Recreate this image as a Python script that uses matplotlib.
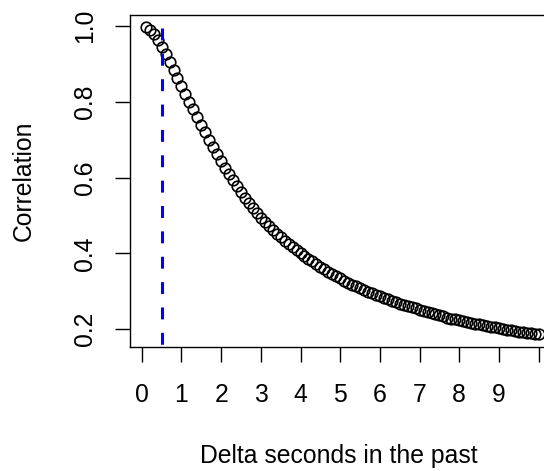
import matplotlib
matplotlib.use('Agg')
import matplotlib.pyplot as plt
import numpy as np

plt.rcParams['font.family'] = ['Liberation Sans', 'DejaVu Sans']
fontsize = 17.8

# lag in seconds (0.1 .. 10.0) and the correlation
lag = [round(0.1 * k, 1) for k in range(1, 101)]
correlation = [
    0.997, 0.990, 0.978, 0.962, 0.945, 0.926, 0.906, 0.885, 0.864, 0.842,
    0.821, 0.800, 0.780, 0.760, 0.740, 0.720, 0.700, 0.681, 0.662, 0.643,
    0.626, 0.609, 0.593, 0.577, 0.562, 0.547, 0.533, 0.519, 0.506, 0.494,
    0.483, 0.472, 0.462, 0.452, 0.443, 0.434, 0.425, 0.417, 0.409, 0.401,
    0.393, 0.386, 0.379, 0.372, 0.365, 0.358, 0.352, 0.346, 0.340, 0.334,
    0.328, 0.323, 0.318, 0.313, 0.308, 0.303, 0.299, 0.295, 0.291, 0.287,
    0.283, 0.279, 0.275, 0.271, 0.267, 0.264, 0.261, 0.258, 0.255, 0.252,
    0.249, 0.246, 0.243, 0.240, 0.237, 0.234, 0.231, 0.228, 0.226, 0.224,
    0.221, 0.219, 0.217, 0.215, 0.213, 0.211, 0.209, 0.207, 0.205, 0.203,
    0.201, 0.199, 0.197, 0.195, 0.193, 0.192, 0.191, 0.190, 0.188, 0.187,
]
cutoff = 0.5
cutoff_top = 0.995

x_ticks = list(range(0, 11))
x_tick_labels = [str(t) for t in range(0, 10)] + ['']
y_ticks = [0.2, 0.4, 0.6, 0.8, 1.0]
y_tick_labels = ['0.2', '0.4', '0.6', '0.8', '1.0']

W, H = 544, 471
fig = plt.figure(figsize=(W / 100, H / 100), dpi=100)
# R-style plot region; the right edge runs slightly past the image
ax = fig.add_axes([130 / W, (H - 347) / H, 424.4 / W, 332.2 / H])

ax.plot(lag, correlation, linestyle='none', marker='o', markersize=7.6,
        markerfacecolor='none', markeredgecolor='black', markeredgewidth=1.2)
ax.plot([cutoff, cutoff], [cutoff_top, 0], color='#0000FF', linewidth=2.2,
        linestyle=(0, (3.9, 4.4)))

ax.set_xlim(-0.296, 10.396)
ax.set_ylim(0.1533, 1.0295)

ax.set_xticks(x_ticks)
ax.set_xticklabels(x_tick_labels, fontsize=fontsize)
ax.set_yticks(y_ticks)
ax.set_yticklabels(y_tick_labels, fontsize=fontsize, rotation=90, va='center')
ax.tick_params(direction='out', length=10.8, width=1.0)
ax.tick_params(axis='x', pad=15)
ax.tick_params(axis='y', pad=13)

for s in ax.spines.values():
    s.set_linewidth(1.0)

fig.text(339 / W, (H - 463) / H, 'Delta seconds in the past', fontsize=fontsize,
         ha='center', va='baseline')
fig.text(31 / W, (H - 181) / H, 'Correlation', fontsize=fontsize, rotation=90,
         ha='center', va='baseline', rotation_mode='anchor')

fig.savefig('out.png', dpi=100)
